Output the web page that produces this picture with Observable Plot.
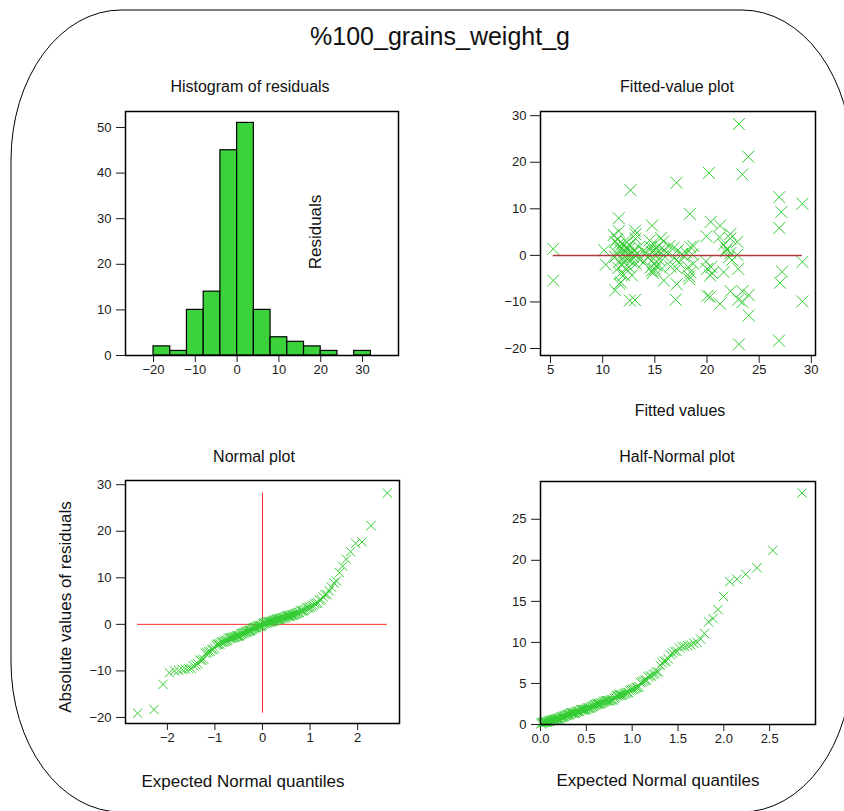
<!DOCTYPE html>
<html><head><meta charset="utf-8">
<script src="https://cdn.jsdelivr.net/npm/d3@7"></script>
<script src="https://cdn.jsdelivr.net/npm/@observablehq/plot@0.6"></script>
<style>
html,body{margin:0;padding:0;background:#fff;}
#wrap{position:relative;width:844px;height:811px;overflow:hidden;font-family:'Liberation Sans',Arial,sans-serif;color:#111;}
.t{position:absolute;white-space:nowrap;transform:translate(-50%,-50%);line-height:1;}
.rot{transform:translate(-50%,-50%) rotate(-90deg);}
</style></head><body><div id="wrap">
<svg width="844" height="811" style="position:absolute;left:0;top:0"><rect x="11" y="10" width="841" height="802" rx="110" ry="150" fill="none" stroke="#000" stroke-width="1"/></svg>
</div>
<script>
// ---- data ----
const chartTitle = "%100_grains_weight_g";
const fitted = [
 23.06,23.96,20.19,23.38,17.08,12.67,26.93,29.14,27.12,18.36,11.54,
 20.35,14.74,21.25,26.93,11.54,13.1,11.06,13.15,19.95,22.24,
 5.26,10.15,
 11.2,11.4,11.5,11.6,11.7,11.9,12.0,12.1,12.2,12.3,12.4,12.5,12.6,12.8,13.0,13.14,13.46,13.3,11.3,
 13.9,14.2,14.74,14.6,14.8,15.0,15.1,15.3,15.6,15.8,15.9,16.1,16.4,15.4,14.5,
 16.8,17.2,17.6,18.0,18.4,18.6,18.7,
 21.2,21.6,21.9,22.24,22.9,22.24,22.9,21.8,
 10.3,
 11.2,11.54,11.7,11.8,12.0,12.1,12.3,12.3,12.5,12.7,12.9,13.2,13.46,11.5,
 13.9,14.3,14.6,14.7,14.9,14.9,15.0,15.2,15.4,15.7,16.0,16.5,14.8,
 16.9,17.3,17.8,18.2,18.4,18.7,17.1,
 19.9,20.0,20.4,20.5,
 21.6,22.1,23.0,22.4,
 27.2,29.14,
 11.2,11.6,11.75,17.1,5.26,15.87,18.3,22.26,23.4,27.0,18.3,20.3,12.03,12.8,
 21.25,29.14,12.6,13.1,17.0,23.0,23.4,20.05,20.3,24.0,
 24.0,
 23.06,26.9
];
const residuals = [
 28.2,21.2,17.7,17.4,15.6,14.0,12.5,11.1,9.3,8.9,8.0,
 7.2,6.4,6.4,5.9,5.2,5.3,4.4,4.5,4.1,4.6,
 1.4,1.1,
 2.9,3.5,2.4,1.8,1.1,2.6,2.1,0.8,1.6,2.9,0.4,1.4,2.2,0.6,1.2,3.6,1.8,0.3,0.5,
 1.0,0.5,0.7,1.8,2.5,1.4,0.3,1.9,3.7,3.0,1.2,0.6,2.0,0.9,3.2,
 1.6,1.1,0.3,0.6,1.8,0.2,2.0,
 3.9,2.3,1.4,0.5,2.9,3.6,0.1,0.9,
 -2.0,
 -0.3,-1.4,-3.9,-2.0,-0.8,-1.6,-0.7,-3.0,-2.5,-1.2,-0.3,-1.8,-0.7,-2.7,
 -1.5,-0.4,-2.6,-3.3,-0.7,-1.8,-3.0,-2.2,-0.9,-2.8,-0.3,-2.4,-3.8,
 -0.5,-1.6,-0.2,-2.5,-3.6,-1.8,-2.8,
 -1.3,-2.9,-2.5,-3.8,
 -3.6,-0.4,-2.9,-1.0,
 -3.5,-1.4,
 -7.5,-6.1,-5.8,-6.2,-5.4,-5.4,-5.1,-7.7,-7.7,-5.9,-4.5,-4.3,-4.2,-4.3,
 -10.4,-9.9,-9.7,-9.6,-9.5,-9.5,-10.0,-8.7,-8.9,-8.5,
 -12.9,
 -19.1,-18.3
];
const binEdges = [-20,-16,-12,-8,-4,0,4,8,12,16,20,24,28,32];
const histXTicks = [-20,-10,0,10,20,30];
const histYTicks = [0,10,20,30,40,50];
const fitXTicks = [5,10,15,20,25,30];
const residTicks = [-20,-10,0,10,20,30];
const normXTicks = [-2,-1,0,1,2];
const halfXTicks = [0,0.5,1,1.5,2,2.5];
const halfYTicks = [0,5,10,15,20,25];

// inverse standard normal CDF (Acklam)
function qnorm(p){
 const a=[-3.969683028665376e+01,2.209460984245205e+02,-2.759285104469687e+02,1.383577518672690e+02,-3.066479806614716e+01,2.506628277459239e+00];
 const b=[-5.447609879822406e+01,1.615858368580409e+02,-1.556989798598866e+02,6.680131188771972e+01,-1.328068155288572e+01];
 const c=[-7.784894002430293e-03,-3.223964580411365e-01,-2.400758277161838e+00,-2.549732539343734e+00,4.374664141464968e+00,2.938163982698783e+00];
 const d=[7.784695709041462e-03,3.224671290700398e-01,2.445134137142996e+00,3.754408661907416e+00];
 const pl=0.02425, ph=1-pl; let q,r;
 if(p<pl){q=Math.sqrt(-2*Math.log(p));return (((((c[0]*q+c[1])*q+c[2])*q+c[3])*q+c[4])*q+c[5])/((((d[0]*q+d[1])*q+d[2])*q+d[3])*q+1);}
 if(p<=ph){q=p-0.5;r=q*q;return (((((a[0]*r+a[1])*r+a[2])*r+a[3])*r+a[4])*r+a[5])*q/(((((b[0]*r+b[1])*r+b[2])*r+b[3])*r+b[4])*r+1);}
 q=Math.sqrt(-2*Math.log(1-p));return -(((((c[0]*q+c[1])*q+c[2])*q+c[3])*q+c[4])*q+c[5])/((((d[0]*q+d[1])*q+d[2])*q+d[3])*q+1);
}

const n = residuals.length;
const sorted = residuals.slice().sort(d3.ascending);
const normQ = sorted.map((v,i)=>qnorm((i+1-0.375)/(n+0.25)));
const absSorted = residuals.map(Math.abs).sort(d3.ascending);
const halfQ = absSorted.map((v,i)=>qnorm(0.5+0.5*(i+1-0.375)/(n+0.25)));

const wrap = document.getElementById("wrap");
const style = {fontFamily:"'Liberation Sans', Arial, sans-serif", fontSize:"13px", color:"#1a1a1a", background:"transparent", overflow:"visible"};
const green = "#33cc33";
const intFmt = d3.format("d");
function place(el,left,top){el.style.position="absolute";el.style.left=left+"px";el.style.top=top+"px";wrap.appendChild(el);}
function text(s,x,y,size,rot){const e=document.createElement("div");e.className="t"+(rot?" rot":"");e.textContent=s;e.style.left=x+"px";e.style.top=y+"px";e.style.fontSize=size+"px";wrap.appendChild(e);}

// Histogram of residuals
place(Plot.plot({
 width:350,height:290,marginLeft:65,marginRight:12,marginTop:11,marginBottom:35,style,
 x:{domain:[-26.7,38.6],ticks:histXTicks,tickFormat:intFmt,tickSize:7,tickPadding:2,label:null},
 y:{domain:[0,53.5],ticks:histYTicks,tickFormat:intFmt,tickSize:9,tickPadding:5,label:null},
 marks:[
  Plot.rectY(residuals, Plot.binX({y:"count"},{x:d=>d,thresholds:binEdges,domain:[binEdges[0],binEdges[binEdges.length-1]],fill:"#3cd23c",stroke:"#000",strokeWidth:1.2,inset:0})),
  Plot.frame({stroke:"#000",strokeWidth:1.5})
 ]}),60,100);

// Fitted-value plot
place(Plot.plot({
 width:350,height:290,marginLeft:60,marginRight:15,marginTop:11,marginBottom:35,style,
 x:{domain:[4.04,30.4],ticks:fitXTicks,tickFormat:intFmt,tickSize:8,tickPadding:1,label:null},
 y:{domain:[-21.5,30.9],ticks:residTicks,tickFormat:intFmt,tickSize:10,tickPadding:4,label:null},
 marks:[
  Plot.dot(d3.range(n),{x:i=>fitted[i],y:i=>residuals[i],symbol:"times",r:5.5,stroke:green,strokeWidth:1}),
  Plot.ruleY([0],{x1:d3.min(fitted),x2:d3.max(fitted),stroke:"#b33a3a",strokeWidth:1.5}),
  Plot.frame({stroke:"#000",strokeWidth:1.5})
 ]}),480,100);

// Normal plot
place(Plot.plot({
 width:350,height:290,marginLeft:65,marginRight:11,marginTop:10,marginBottom:37,style,
 x:{domain:[-2.88,2.88],ticks:normXTicks,tickFormat:intFmt,tickSize:7,tickPadding:2,label:null},
 y:{domain:[-21.3,30.9],ticks:residTicks,tickFormat:intFmt,tickSize:9,tickPadding:5,label:null},
 marks:[
  Plot.ruleX([0],{y1:d3.min(residuals),y2:d3.max(residuals),stroke:"#ff2a2a",strokeWidth:1}),
  Plot.ruleY([0],{x1:normQ[0],x2:normQ[n-1],stroke:"#ff2a2a",strokeWidth:1}),
  Plot.dot(sorted,{x:(d,i)=>normQ[i],y:d=>d,symbol:"times",r:4.3,stroke:green,strokeWidth:1}),
  Plot.frame({stroke:"#000",strokeWidth:1.5})
 ]}),60,470);

// Half-Normal plot
place(Plot.plot({
 width:350,height:290,marginLeft:60,marginRight:15,marginTop:11,marginBottom:36,style,
 x:{domain:[0,3.0],ticks:halfXTicks,tickFormat:d3.format(".1f"),tickSize:7,tickPadding:2,label:null},
 y:{domain:[0,29.6],ticks:halfYTicks,tickFormat:intFmt,tickSize:9,tickPadding:5,label:null},
 marks:[
  Plot.dot(absSorted,{x:(d,i)=>halfQ[i],y:d=>d,symbol:"times",r:4.3,stroke:green,strokeWidth:1}),
  Plot.frame({stroke:"#000",strokeWidth:1.5})
 ]}),480,470);

text(chartTitle,440,36,25);
text("Histogram of residuals",250,87,16);
text("Fitted-value plot",677,87,16);
text("Residuals",315,232,17,true);
text("Fitted values",680,411,16);
text("Normal plot",254,457,16);
text("Half-Normal plot",677,457,16);
text("Absolute values of residuals",65,607,17,true);
text("Expected Normal quantiles",243,781,17);
text("Expected Normal quantiles",658,780,17);
</script></body></html>
